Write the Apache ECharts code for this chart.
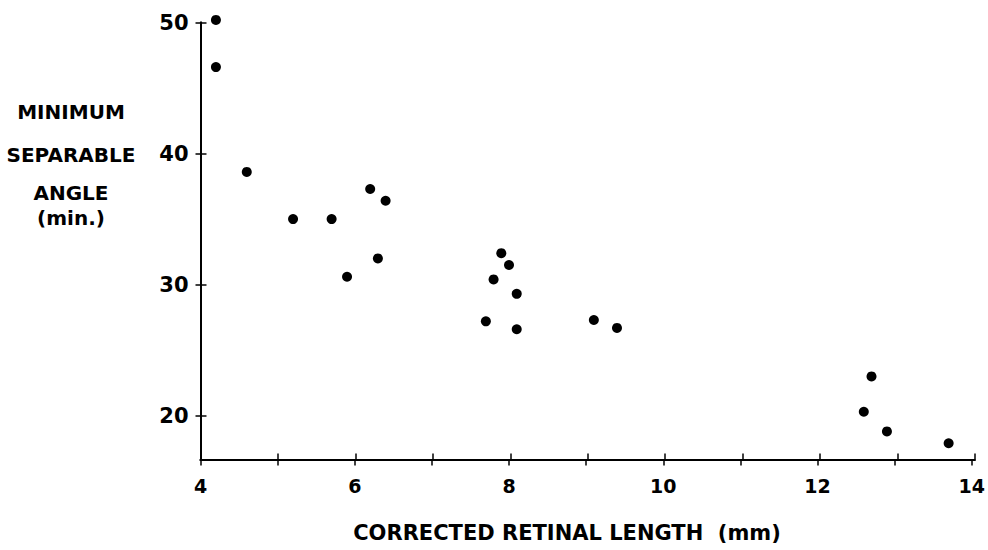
<!DOCTYPE html>
<html>
<head>
<meta charset="utf-8"/>
<title>Minimum separable angle vs corrected retinal length</title>
<script src="https://cdn.jsdelivr.net/npm/echarts@6/dist/echarts.min.js"></script>
<style>
	* { padding: 0; margin: 0; }
	body { background: #fff; }
	#chart { width: 988px; height: 550px; }
</style>
</head>
<body>
<div id="chart"></div>
<script>
	// values
	var retinalLength = [4.2, 4.2, 4.6, 5.2, 5.7, 5.9, 6.2, 6.3, 6.4, 7.7, 7.8, 7.9, 8.0, 8.1, 8.1, 9.1, 9.4, 12.6, 12.7, 12.9, 13.7];
	var separableAngle = [50.2, 46.6, 38.6, 35.0, 35.0, 30.6, 37.3, 32.0, 36.4, 27.2, 30.4, 32.4, 31.5, 29.3, 26.6, 27.3, 26.7, 20.3, 23.0, 18.8, 17.9];
	var xLabels = [4, 6, 8, 10, 12, 14];
	var yTicks = [20, 30, 40, 50];
	var yTitleLines = ['MINIMUM', 'SEPARABLE', 'ANGLE', '(min.)'];
	var xTitle = 'CORRECTED RETINAL LENGTH  (mm)';

	var points = [];
	for (var i = 0; i < retinalLength.length; i++) points.push([retinalLength[i], separableAngle[i]]);

	var font = 'DejaVu Sans';
	var lineStyle = { color: '#000', width: 2 };
	var gridBox = { left: 200.5, right: 13, top: 22.5, bottom: 90.5 };

	// the same grid twice: one with outside ticks, one with inside ticks, so ticks cross the line
	function xAxis(g, inside, withLabels) {
		return {
			gridIndex: g, type: 'value', min: 4, max: 14, interval: 1, position: 'bottom',
			axisLine: { show: true, onZero: false, lineStyle: lineStyle },
			axisTick: { show: true, inside: inside, length: 6, lineStyle: { color: '#000', width: 1.5 } },
			axisLabel: { show: withLabels, customValues: xLabels, margin: 17, color: '#000',
				fontFamily: font, fontWeight: 'bold', fontSize: 19 },
			splitLine: { show: false }
		};
	}
	function yAxis(g, inside, withLabels) {
		return {
			gridIndex: g, type: 'value', min: 16.66, max: 50, position: 'left',
			axisLine: { show: true, onZero: false, lineStyle: lineStyle },
			axisTick: { show: true, inside: inside, length: inside ? 6 : 5, customValues: yTicks, lineStyle: { color: '#000', width: 1.5 } },
			axisLabel: { show: withLabels, customValues: yTicks, margin: 12, color: '#000',
				fontFamily: font, fontWeight: 'bold', fontSize: 21 },
			splitLine: { show: false }
		};
	}

	var titleY = [112, 155, 193, 218];
	var graphics = yTitleLines.map(function (t, k) {
		return {
			type: 'text', x: 71, y: titleY[k],
			style: { text: t, textAlign: 'center', textVerticalAlign: 'middle', fill: '#000',
				font: 'bold 20px "' + font + '"' }
		};
	});
	graphics.push({
		type: 'text', x: 567, y: 533,
		style: { text: xTitle, textAlign: 'center', textVerticalAlign: 'middle', fill: '#000',
			font: 'bold 21px "' + font + '"' }
	});

	var chart = echarts.init(document.getElementById('chart'), null, { renderer: 'svg' });
	chart.setOption({
		animation: false,
		grid: [gridBox, gridBox],
		xAxis: [xAxis(0, false, true), xAxis(1, true, false)],
		yAxis: [yAxis(0, false, true), yAxis(1, true, false)],
		graphic: graphics,
		series: [{
			type: 'scatter', xAxisIndex: 0, yAxisIndex: 0,
			data: points, symbol: 'circle', symbolSize: 10, clip: false,
			itemStyle: { color: '#000', opacity: 1 }
		}]
	});
</script>
</body>
</html>
